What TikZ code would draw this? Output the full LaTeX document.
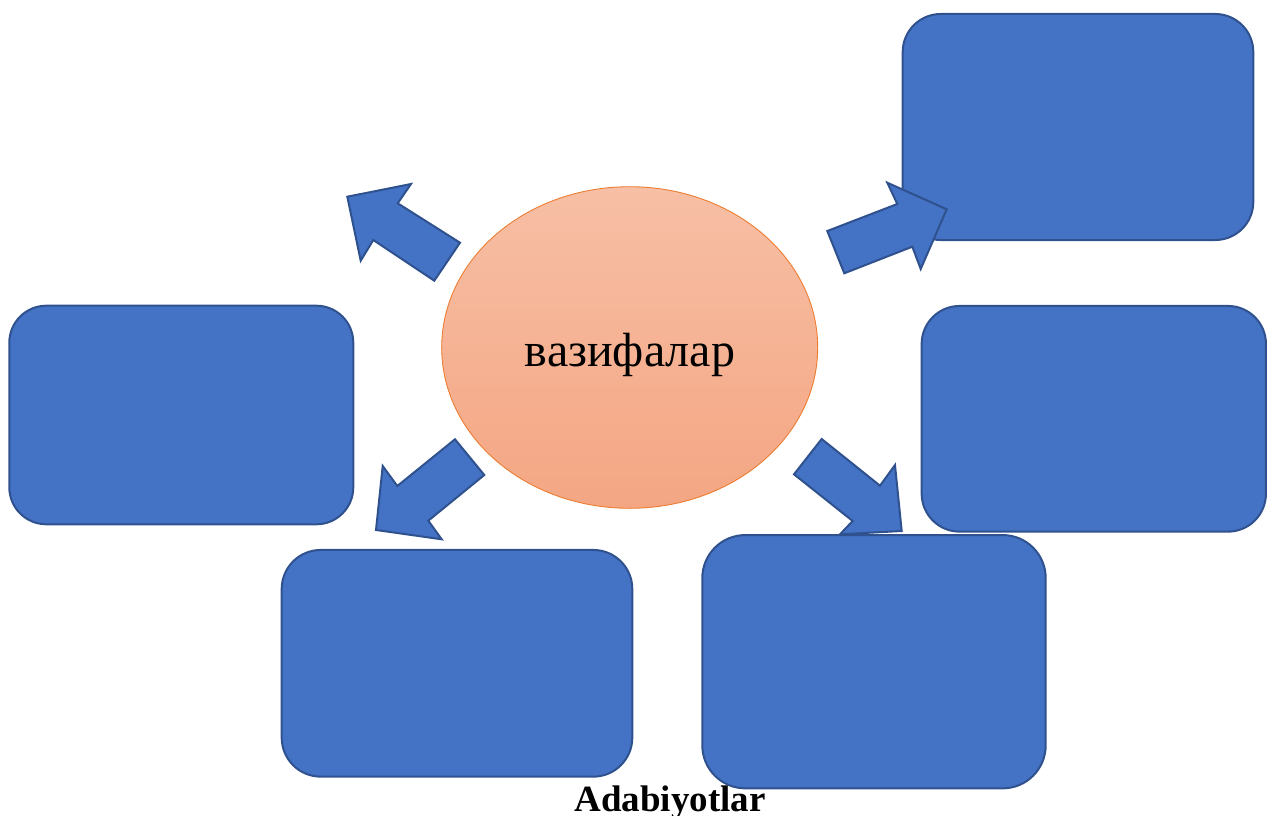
\documentclass[tikz,border=0pt]{standalone}
\usepackage{fontspec}
\setmainfont{Liberation Serif}
\usetikzlibrary{shapes.geometric}
\definecolor{boxfill}{HTML}{4472C4}
\definecolor{boxline}{HTML}{2F528F}
\definecolor{elltop}{HTML}{F7BFA5}
\definecolor{ellbot}{HTML}{F4A683}
\definecolor{ellline}{HTML}{ED7D31}
\tikzset{
  bluebox/.style={draw=boxline, fill=boxfill, line width=2pt, inner sep=0pt, rectangle},
  blockarrow/.style={draw=boxline, fill=boxfill, line width=2pt, line join=miter},
}
\begin{document}
\begin{tikzpicture}[x=1pt,y=-1pt]
\useasboundingbox (0,0) rectangle (1267,816);
% boxes (lower layer)
\node[bluebox, minimum width=350.6pt, minimum height=226pt, rounded corners=38pt] (tr) at (1078,127) {};
\node[bluebox, minimum width=344.3pt, minimum height=225.7pt, rounded corners=38pt] (r) at (1093.8,418.8) {};
\node[bluebox, minimum width=344pt, minimum height=218.6pt, rounded corners=37pt] (l) at (181.3,415) {};
\node[bluebox, minimum width=350.6pt, minimum height=226.7pt, rounded corners=39pt] (bl) at (457,663.3) {};
% central ellipse
\node[ellipse, draw=ellline, line width=0.9pt, top color=elltop, bottom color=ellbot,
      minimum width=376pt, minimum height=321.6pt, inner sep=0pt] (c) at (629.7,347.5) {};
\node[anchor=base, inner sep=0pt, font=\fontsize{48}{52}\selectfont] (lbl) at (630,366.7) {вазифалар};
% block arrows
\draw[blockarrow] (347.3,196.7) -- (411,184) -- (397.7,203.3) -- (460,242.7) -- (434.3,280.7) -- (373.3,240) -- (360.7,260.7) -- cycle;
\draw[blockarrow] (827.3,231) -- (897.3,204) -- (887.3,182.7) -- (946.7,209.3) -- (920.7,269) -- (912.3,246.7) -- (844.3,273.3) -- cycle;
\draw[blockarrow] (455,439.3) -- (397.3,486) -- (382.7,466) -- (376,530) -- (441.7,539.3) -- (428.3,520.7) -- (484.3,475) -- cycle;
\draw[blockarrow] (821.7,439) -- (880,485.7) -- (895,465) -- (901.7,531) -- (840,534.3) -- (852.7,521) -- (794,474.3) -- cycle;
% bottom-right box over its arrow
\node[bluebox, minimum width=343.4pt, minimum height=253.3pt, rounded corners=43pt] (br) at (874,661.7) {};
% caption
\node[anchor=base, inner sep=0pt, font=\fontsize{37}{41}\selectfont\bfseries] (cap) at (670,811) {Adabiyotlar};
\end{tikzpicture}
\end{document}
